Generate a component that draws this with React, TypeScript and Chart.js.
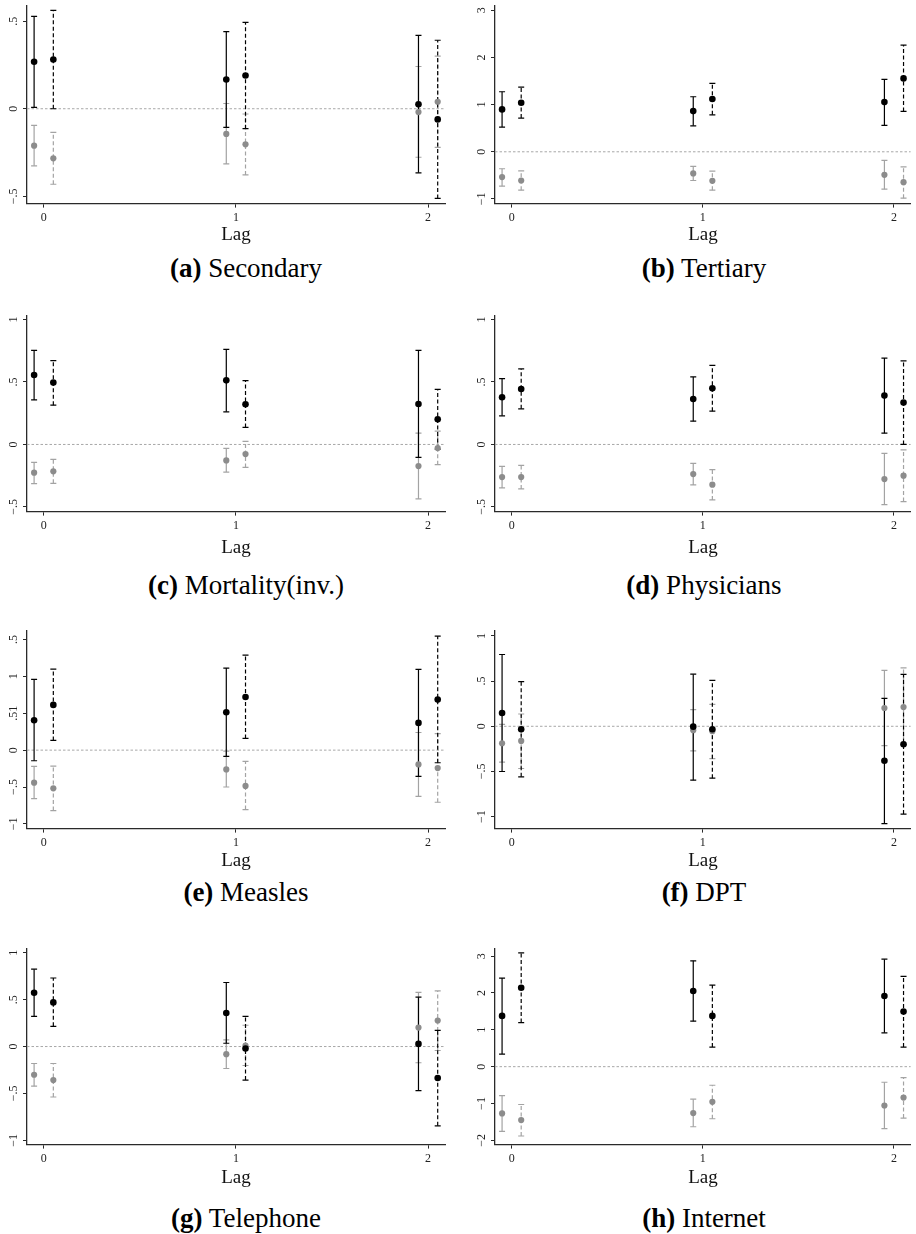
import React, { useEffect, useRef } from "react";
import { Chart, registerables } from "chart.js";

Chart.register(...registerables);

// ---------- shared axis data ----------
const X_TICKS = [0, 1, 2];
const X_TICK_LABELS = ["0", "1", "2"];
const X_RANGE = [-0.087, 2.088];
const SOLID_X = [-0.05, 0.95, 1.95];
const DASHED_X = [0.05, 1.05, 2.05];
const X_TITLE = "Lag";

// ---------- panel data: rows are [estimate, lower, upper] for lag 0, 1, 2 ----------
// (a) Secondary
const secondaryBlackSolid = [[0.268, 0.008, 0.527], [0.167, -0.106, 0.44], [0.025, -0.366, 0.419]];
const secondaryBlackDashed = [[0.281, 0.0, 0.562], [0.19, -0.114, 0.493], [-0.061, -0.512, 0.391]];
const secondaryGraySolid = [[-0.211, -0.326, -0.095], [-0.144, -0.315, 0.03], [-0.019, -0.277, 0.241]];
const secondaryGrayDashed = [[-0.283, -0.431, -0.135], [-0.203, -0.378, -0.03], [0.04, -0.22, 0.3]];
const secondaryYRange = [-0.5415, 0.591];
const secondaryYTicks = [-0.5, 0, 0.5];
const secondaryYLabels = ["\u2212.5", "0", ".5"];

// (b) Tertiary
const tertiaryBlackSolid = [[0.898, 0.523, 1.272], [0.862, 0.551, 1.166], [1.053, 0.558, 1.534]];
const tertiaryBlackDashed = [[1.039, 0.714, 1.371], [1.117, 0.784, 1.449], [1.555, 0.855, 2.261]];
const tertiaryGraySolid = [[-0.537, -0.728, -0.36], [-0.459, -0.608, -0.311], [-0.488, -0.792, -0.184]];
const tertiaryGrayDashed = [[-0.608, -0.813, -0.403], [-0.615, -0.813, -0.41], [-0.643, -0.982, -0.318]];
const tertiaryYRange = [-1.098, 3.106];
const tertiaryYTicks = [-1, 0, 1, 2, 3];
const tertiaryYLabels = ["\u22121", "0", "1", "2", "3"];

// (c) Mortality(inv.)
const mortalityBlackSolid = [[0.556, 0.356, 0.753], [0.513, 0.261, 0.761], [0.324, -0.104, 0.753]];
const mortalityBlackDashed = [[0.495, 0.314, 0.67], [0.322, 0.136, 0.511], [0.202, -0.037, 0.441]];
const mortalityGraySolid = [[-0.226, -0.314, -0.144], [-0.128, -0.221, -0.032], [-0.173, -0.436, 0.09]];
const mortalityGrayDashed = [[-0.215, -0.311, -0.12], [-0.077, -0.184, 0.024], [-0.029, -0.162, 0.106]];
const mortalityYRange = [-0.537, 1.034];
const mortalityYTicks = [-0.5, 0, 0.5, 1];
const mortalityYLabels = ["\u2212.5", "0", ".5", "1"];

// (d) Physicians
const physiciansBlackSolid = [[0.378, 0.229, 0.527], [0.364, 0.186, 0.54], [0.391, 0.09, 0.691]];
const physiciansBlackDashed = [[0.444, 0.285, 0.604], [0.449, 0.266, 0.633], [0.335, 0.0, 0.668]];
const physiciansGraySolid = [[-0.261, -0.348, -0.176], [-0.237, -0.324, -0.152], [-0.277, -0.481, -0.072]];
const physiciansGrayDashed = [[-0.261, -0.356, -0.168], [-0.322, -0.444, -0.202], [-0.25, -0.457, -0.043]];
const physiciansYRange = [-0.537, 1.034];
const physiciansYTicks = [-0.5, 0, 0.5, 1];
const physiciansYLabels = ["\u2212.5", "0", ".5", "1"];

// (e) Measles
const measlesBlackSolid = [[0.405, -0.144, 0.959], [0.514, -0.086, 1.113], [0.369, -0.356, 1.095]];
const measlesBlackDashed = [[0.613, 0.131, 1.099], [0.721, 0.158, 1.288], [0.685, -0.171, 1.545]];
const measlesGraySolid = [[-0.441, -0.658, -0.221], [-0.261, -0.5, -0.014], [-0.194, -0.626, 0.239]];
const measlesGrayDashed = [[-0.518, -0.82, -0.216], [-0.486, -0.806, -0.153], [-0.243, -0.707, 0.225]];
const measlesYRange = [-1.064, 1.626];
const measlesYTicks = [-1, -0.5, 0, 0.5, 1, 1.5];
const measlesYLabels = ["\u22121", "\u2212.5", "0", ".51", "1", ".5"];

// (f) DPT
const dptBlackSolid = [[0.147, -0.5, 0.794], [-0.004, -0.596, 0.577], [-0.382, -1.077, 0.309]];
const dptBlackDashed = [[-0.033, -0.559, 0.493], [-0.033, -0.574, 0.507], [-0.199, -0.971, 0.574]];
const dptGraySolid = [[-0.188, -0.397, 0.022], [-0.044, -0.272, 0.184], [0.202, -0.213, 0.618]];
const dptGrayDashed = [[-0.162, -0.467, 0.136], [-0.055, -0.357, 0.243], [0.213, -0.206, 0.647]];
const dptYRange = [-1.132, 1.063];
const dptYTicks = [-1, -0.5, 0, 0.5, 1];
const dptYLabels = ["\u22121", "\u2212.5", "0", ".5", "1"];

// (g) Telephone
const telephoneBlackSolid = [[0.573, 0.322, 0.825], [0.358, 0.035, 0.683], [0.028, -0.471, 0.527]];
const telephoneBlackDashed = [[0.471, 0.216, 0.731], [-0.021, -0.358, 0.322], [-0.336, -0.846, 0.173]];
const telephoneGraySolid = [[-0.301, -0.423, -0.181], [-0.081, -0.234, 0.071], [0.202, -0.173, 0.577]];
const telephoneGrayDashed = [[-0.358, -0.538, -0.181], [0.011, -0.202, 0.227], [0.278, -0.042, 0.593]];
const telephoneYRange = [-1.046, 1.049];
const telephoneYTicks = [-1, -0.5, 0, 0.5, 1];
const telephoneYLabels = ["\u22121", "\u2212.5", "0", ".5", "1"];

// (h) Internet
const internetBlackSolid = [[1.378, 0.342, 2.405], [2.054, 1.234, 2.874], [1.919, 0.919, 2.919]];
const internetBlackDashed = [[2.144, 1.198, 3.09], [1.378, 0.532, 2.216], [1.495, 0.532, 2.45]];
const internetGraySolid = [[-1.27, -1.757, -0.784], [-1.261, -1.631, -0.883], [-1.054, -1.685, -0.423]];
const internetGrayDashed = [[-1.45, -1.883, -1.027], [-0.955, -1.414, -0.505], [-0.838, -1.396, -0.297]];
const internetYRange = [-2.116, 3.216];
const internetYTicks = [-2, -1, 0, 1, 2, 3];
const internetYLabels = ["\u22122", "\u22121", "0", "1", "2", "3"];

// ---------- table built from the arrays ----------
const PANELS = [
  { letter: "(a)", name: "Secondary", bs: secondaryBlackSolid, bd: secondaryBlackDashed, gs: secondaryGraySolid, gd: secondaryGrayDashed, range: secondaryYRange, ticks: secondaryYTicks, labels: secondaryYLabels },
  { letter: "(b)", name: "Tertiary", bs: tertiaryBlackSolid, bd: tertiaryBlackDashed, gs: tertiaryGraySolid, gd: tertiaryGrayDashed, range: tertiaryYRange, ticks: tertiaryYTicks, labels: tertiaryYLabels },
  { letter: "(c)", name: "Mortality(inv.)", bs: mortalityBlackSolid, bd: mortalityBlackDashed, gs: mortalityGraySolid, gd: mortalityGrayDashed, range: mortalityYRange, ticks: mortalityYTicks, labels: mortalityYLabels },
  { letter: "(d)", name: "Physicians", bs: physiciansBlackSolid, bd: physiciansBlackDashed, gs: physiciansGraySolid, gd: physiciansGrayDashed, range: physiciansYRange, ticks: physiciansYTicks, labels: physiciansYLabels },
  { letter: "(e)", name: "Measles", bs: measlesBlackSolid, bd: measlesBlackDashed, gs: measlesGraySolid, gd: measlesGrayDashed, range: measlesYRange, ticks: measlesYTicks, labels: measlesYLabels },
  { letter: "(f)", name: "DPT", bs: dptBlackSolid, bd: dptBlackDashed, gs: dptGraySolid, gd: dptGrayDashed, range: dptYRange, ticks: dptYTicks, labels: dptYLabels },
  { letter: "(g)", name: "Telephone", bs: telephoneBlackSolid, bd: telephoneBlackDashed, gs: telephoneGraySolid, gd: telephoneGrayDashed, range: telephoneYRange, ticks: telephoneYTicks, labels: telephoneYLabels },
  { letter: "(h)", name: "Internet", bs: internetBlackSolid, bd: internetBlackDashed, gs: internetGraySolid, gd: internetGrayDashed, range: internetYRange, ticks: internetYTicks, labels: internetYLabels },
];

// ---------- layout ----------
const FONT = '"Liberation Serif", "DejaVu Serif", serif';
const COLUMNS = [
  { left: 0, axisX: 27, padRight: 13, captionX: 246 },
  { left: 458, axisX: 37, padRight: 3, captionX: 704 },
];
const ROWS = [
  { plotTop: 5, axisY: 204, lagOffset: 31, captionY: 268 },
  { plotTop: 315, axisY: 512, lagOffset: 36, captionY: 585 },
  { plotTop: 630, axisY: 829, lagOffset: 32, captionY: 892 },
  { plotTop: 948, axisY: 1145, lagOffset: 33, captionY: 1218 },
];
const CANVAS_W = 458;
const TOP_PAD = 5;
const LAG_SIZE = 19;

const BLACK = "#000000";
const GRAY_BAR = "#a3a3a3";
const GRAY_PT = "#8c8c8c";
const AXIS = "#2a2a2a";
const DASH = [4, 2.5];

const rotatedYLabels = {
  id: "rotatedYLabels",
  afterDraw(chart: any, _args: any, opts: any) {
    const s = chart.scales.y;
    const ctx = chart.ctx;
    ctx.save();
    ctx.font = `12px ${FONT}`;
    ctx.fillStyle = "#222";
    ctx.textAlign = "center";
    ctx.textBaseline = "middle";
    (opts.values || []).forEach((v: number, i: number) => {
      const y = s.getPixelForValue(v);
      ctx.save();
      ctx.translate(s.right - 13.5, y);
      ctx.rotate(-Math.PI / 2);
      ctx.fillText(opts.labels[i], 0, 0);
      ctx.restore();
    });
    ctx.restore();
  },
};

function barSets(rows: number[][], xs: number[], color: string, dash: number[]) {
  return rows.map((r, i) => ({
    data: [{ x: xs[i], y: r[1] }, { x: xs[i], y: r[2] }],
    showLine: true,
    borderColor: color,
    borderWidth: 1.2,
    borderDash: dash,
    pointStyle: "line",
    pointRadius: 3,
    pointBorderColor: color,
    pointBorderWidth: 1.2,
    pointBackgroundColor: color,
    tension: 0,
    fill: false,
  }));
}

function pointSet(rows: number[][], xs: number[], color: string, radius: number) {
  return {
    data: rows.map((r, i) => ({ x: xs[i], y: r[0] })),
    showLine: false,
    pointStyle: "circle",
    pointRadius: radius,
    pointBackgroundColor: color,
    pointBorderColor: color,
    pointBorderWidth: 0,
  };
}

function Panel({ p, col, row }: { p: any; col: any; row: any }) {
  const ref = useRef<HTMLCanvasElement | null>(null);
  const xAxisH = row.lagOffset + (LAG_SIZE * 1.2) / 2;
  const canvasH = Math.round(TOP_PAD + (row.axisY - row.plotTop) + xAxisH);
  const canvasTop = row.plotTop - TOP_PAD;

  useEffect(() => {
    if (!ref.current) return;
    const datasets: any[] = [
      pointSet(p.bs, SOLID_X, BLACK, 3.3),
      pointSet(p.bd, DASHED_X, BLACK, 3.3),
      pointSet(p.gs, SOLID_X, GRAY_PT, 3.1),
      pointSet(p.gd, DASHED_X, GRAY_PT, 3.1),
      ...barSets(p.bs, SOLID_X, BLACK, []),
      ...barSets(p.bd, DASHED_X, BLACK, DASH),
      ...barSets(p.gs, SOLID_X, GRAY_BAR, []),
      ...barSets(p.gd, DASHED_X, GRAY_BAR, DASH),
      {
        data: [{ x: X_RANGE[0], y: 0 }, { x: X_RANGE[1], y: 0 }],
        showLine: true,
        borderColor: "#a8a8a8",
        borderWidth: 1,
        borderDash: [2.5, 2],
        pointRadius: 0,
      },
    ];
    const chart = new Chart(ref.current, {
      type: "line",
      data: { datasets },
      plugins: [rotatedYLabels],
      options: {
        animation: false,
        responsive: false,
        devicePixelRatio: 1,
        events: [],
        layout: { padding: { top: TOP_PAD, left: 0, right: col.padRight, bottom: 0 } },
        plugins: {
          legend: { display: false },
          tooltip: { enabled: false },
          rotatedYLabels: { values: p.ticks, labels: p.labels },
        } as any,
        scales: {
          x: {
            type: "linear",
            min: X_RANGE[0],
            max: X_RANGE[1],
            afterBuildTicks: (s: any) => {
              s.ticks = X_TICKS.map((v) => ({ value: v }));
            },
            afterFit: (s: any) => {
              s.height = xAxisH;
            },
            ticks: {
              autoSkip: false,
              maxRotation: 0,
              minRotation: 0,
              padding: 3,
              color: "#222",
              font: { family: FONT, size: 12 },
              callback: (_v: any, i: number) => X_TICK_LABELS[i],
            },
            grid: { display: true, drawOnChartArea: false, drawTicks: true, tickLength: 4, tickColor: AXIS, tickWidth: 1 },
            border: { display: true, color: AXIS, width: 1.3 },
            title: { display: true, text: X_TITLE, color: "#111", padding: 0, font: { family: FONT, size: LAG_SIZE } },
          },
          y: {
            type: "linear",
            min: p.range[0],
            max: p.range[1],
            afterBuildTicks: (s: any) => {
              s.ticks = p.ticks.map((v: number) => ({ value: v }));
            },
            afterFit: (s: any) => {
              s.width = col.axisX;
            },
            ticks: { display: false },
            grid: { display: true, drawOnChartArea: false, drawTicks: true, tickLength: 4, tickColor: AXIS, tickWidth: 1 },
            border: { display: true, color: AXIS, width: 1.3 },
          },
        },
      } as any,
    });
    return () => chart.destroy();
  }, []);

  return (
    <>
      <canvas
        ref={ref}
        width={CANVAS_W}
        height={canvasH}
        style={{ position: "absolute", left: col.left, top: canvasTop, width: CANVAS_W, height: canvasH }}
      />
      <div
        style={{
          position: "absolute",
          left: col.captionX - 200,
          top: row.captionY - 16,
          width: 400,
          height: 32,
          lineHeight: "32px",
          textAlign: "center",
          fontFamily: FONT,
          fontSize: 27,
          color: "#000",
          whiteSpace: "nowrap",
        }}
      >
        <b>{p.letter}</b> {p.name}
      </div>
    </>
  );
}

export default function App() {
  return (
    <div style={{ position: "absolute", left: 0, top: 0, width: 916, height: 1234, background: "#fff", overflow: "hidden" }}>
      {PANELS.map((p, i) => (
        <Panel key={i} p={p} col={COLUMNS[i % 2]} row={ROWS[Math.floor(i / 2)]} />
      ))}
    </div>
  );
}
